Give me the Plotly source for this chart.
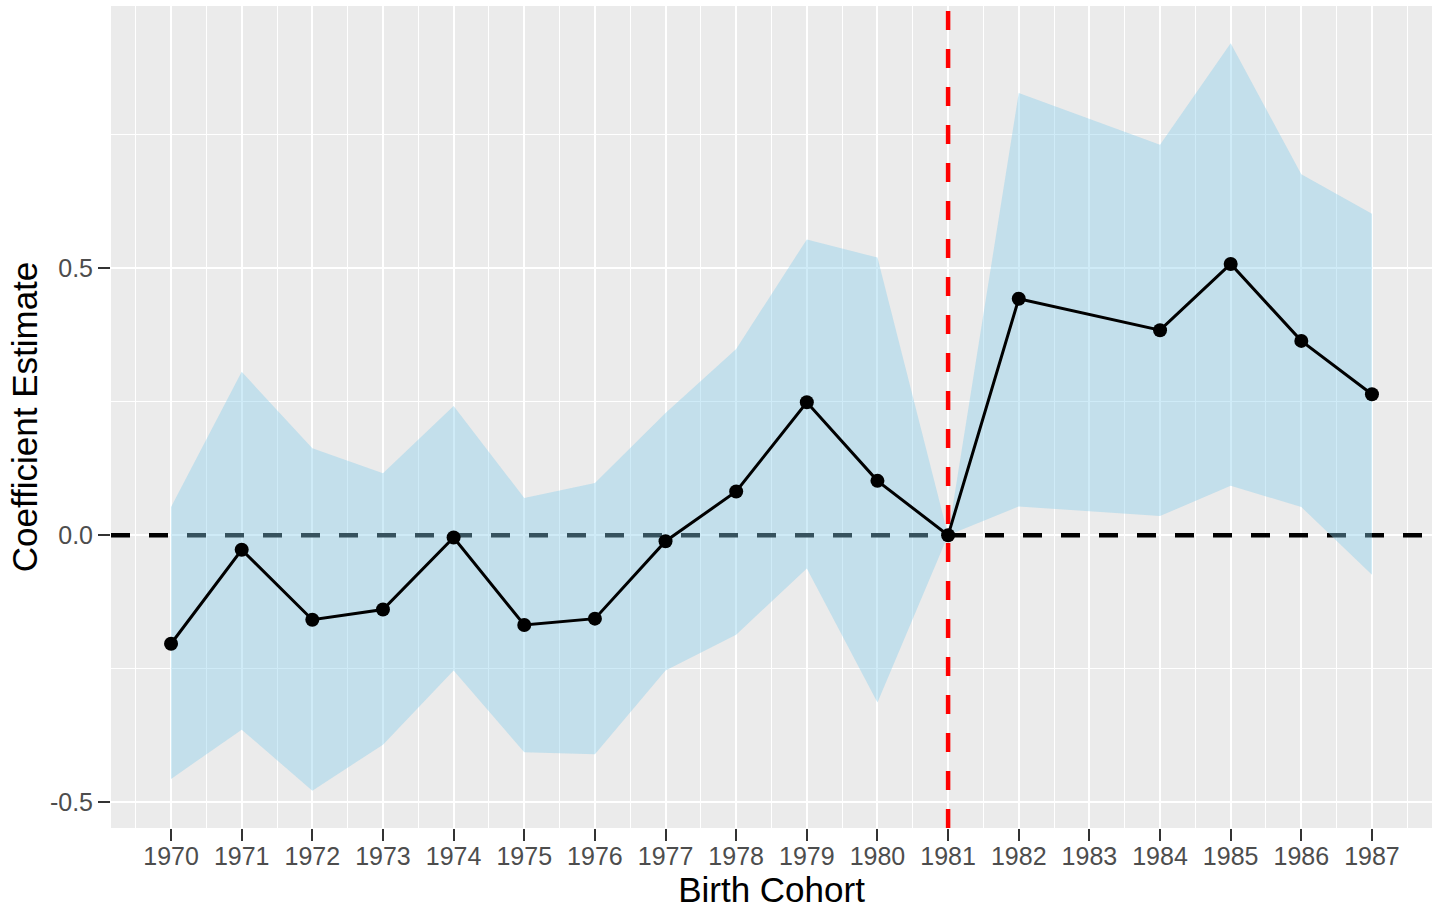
import plotly.graph_objects as go

# ---- data ----
YEARS = [1970, 1971, 1972, 1973, 1974, 1975, 1976, 1977, 1978, 1979, 1980,
         1981, 1982, 1984, 1985, 1986, 1987]
ESTIMATE = [-0.203, -0.027, -0.158, -0.139, -0.004, -0.168, -0.156, -0.011, 0.082,
            0.249, 0.102, 0.000, 0.443, 0.384, 0.508, 0.364, 0.264]
UPPER = [0.053, 0.306, 0.163, 0.116, 0.242, 0.070, 0.098, 0.229, 0.349,
         0.554, 0.520, 0.000, 0.828, 0.731, 0.921, 0.676, 0.602]
LOWER = [-0.456, -0.364, -0.478, -0.392, -0.253, -0.406, -0.410, -0.253, -0.186,
         -0.062, -0.313, 0.000, 0.054, 0.036, 0.093, 0.053, -0.074]

X_TICKS = list(range(1970, 1988))
X_TICK_LABELS = [str(v) for v in X_TICKS]
Y_TICKS = [-0.5, 0.0, 0.5]
Y_TICK_LABELS = ["-0.5", "0.0", "0.5"]

REFORM_YEAR = 1981
REF_LEVEL = 0.0

X_TITLE = "Birth Cohort"
Y_TITLE = "Coefficient Estimate"

# ---- ggplot-like 5% expansion of scales ----
x_lo, x_hi = min(YEARS), max(YEARS)
x_pad = 0.05 * (x_hi - x_lo)
x_range = [x_lo - x_pad, x_hi + x_pad]
y_lo = min(LOWER + ESTIMATE)
y_hi = max(UPPER + ESTIMATE)
y_pad = 0.05 * (y_hi - y_lo)
y_range = [y_lo - y_pad, y_hi + y_pad]

FONT = "Liberation Sans, Arial, Helvetica, sans-serif"
RIBBON = "rgba(135,206,235,0.4)"

fig = go.Figure()

# horizontal reference line (below the ribbon)
fig.add_trace(go.Scatter(x=x_range, y=[REF_LEVEL, REF_LEVEL], mode="lines",
                         line=dict(color="black", width=4.5, dash="19px,19px"),
                         showlegend=False, hoverinfo="skip"))
fig.add_trace(go.Scatter(x=YEARS, y=LOWER, mode="lines",
                         line=dict(width=0, color=RIBBON),
                         showlegend=False, hoverinfo="skip"))
fig.add_trace(go.Scatter(x=YEARS, y=UPPER, mode="lines", fill="tonexty",
                         fillcolor=RIBBON, line=dict(width=0, color=RIBBON),
                         showlegend=False, hoverinfo="skip"))
# vertical reform line (drawn above ribbon, below estimates)
fig.add_trace(go.Scatter(x=[REFORM_YEAR, REFORM_YEAR], y=y_range, mode="lines",
                         line=dict(color="#FF0000", width=4.5, dash="19px,19px"),
                         showlegend=False, hoverinfo="skip"))
fig.add_trace(go.Scatter(x=YEARS, y=ESTIMATE, mode="lines+markers",
                         line=dict(color="black", width=3),
                         marker=dict(color="black", size=14),
                         showlegend=False))

fig.update_layout(
    width=1441, height=911,
    margin=dict(l=111, r=9, t=6, b=83),
    paper_bgcolor="white",
    plot_bgcolor="#EBEBEB",
    font=dict(family=FONT, color="#4D4D4D"),
    showlegend=False,
)
fig.update_xaxes(
    range=x_range, tickmode="array", tickvals=X_TICKS, ticktext=X_TICK_LABELS,
    showgrid=True, gridcolor="white", gridwidth=2.2, zeroline=False,
    ticks="outside", ticklen=12, tickwidth=2.4, tickcolor="#333333",
    tickfont=dict(size=25, color="#4D4D4D", family=FONT),
    ticklabelstandoff=-6,
    minor=dict(tickmode="linear", tick0=0.5, dtick=1, showgrid=True,
               gridcolor="white", gridwidth=1.1, ticks=""),
    showline=False,
    title=dict(text=X_TITLE, font=dict(size=35, color="black", family=FONT), standoff=2),
)
fig.update_yaxes(
    range=y_range, tickmode="array", tickvals=Y_TICKS, ticktext=Y_TICK_LABELS,
    showgrid=True, gridcolor="white", gridwidth=2.2, zeroline=False,
    ticks="outside", ticklen=12, tickwidth=2.4, tickcolor="#333333",
    tickfont=dict(size=25, color="#4D4D4D", family=FONT),
    minor=dict(tickmode="linear", tick0=0.25, dtick=0.5, showgrid=True,
               gridcolor="white", gridwidth=1.1, ticks=""),
    showline=False,
    title=dict(text=Y_TITLE, font=dict(size=35, color="black", family=FONT), standoff=1),
)

fig.write_html("out.html", config={"displayModeBar": False},
               post_script="document.body.style.margin='0';document.body.style.overflow='hidden';")
